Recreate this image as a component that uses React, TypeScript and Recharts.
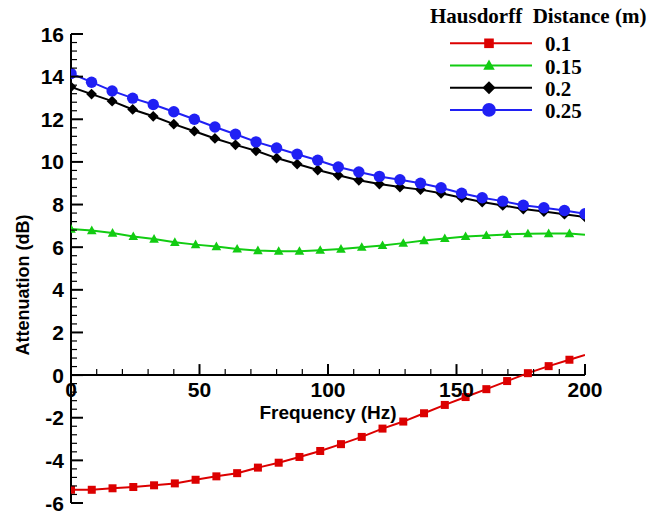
import React from 'react';
import { LineChart, Line, XAxis, YAxis, ReferenceLine, Legend } from 'recharts';

// ---------- data ----------
const freqGridA = [0, 8, 16, 24, 32, 40, 48, 56, 64, 72, 80, 88, 96, 104, 112, 120, 128, 136, 144, 152, 160, 168, 176, 184, 192, 200];
const freqGridB = [0, 8.08, 16.16, 24.24, 32.32, 40.4, 48.48, 56.57, 64.65, 72.73, 80.81, 88.89, 96.97, 105.05, 113.13, 121.21, 129.29, 137.37, 145.45, 153.54, 161.62, 169.7, 177.78, 185.86, 193.94, 200];

const att010 = [-5.38, -5.38, -5.31, -5.25, -5.17, -5.08, -4.91, -4.75, -4.6, -4.34, -4.11, -3.84, -3.56, -3.24, -2.9, -2.51, -2.18, -1.79, -1.4, -1.03, -0.66, -0.28, 0.09, 0.42, 0.72, 0.94];
const att015 = [6.85, 6.78, 6.66, 6.5, 6.38, 6.23, 6.12, 6.03, 5.92, 5.84, 5.81, 5.81, 5.86, 5.91, 6.0, 6.08, 6.19, 6.31, 6.41, 6.5, 6.55, 6.6, 6.63, 6.64, 6.64, 6.58];
const att020 = [13.52, 13.18, 12.85, 12.46, 12.14, 11.77, 11.44, 11.1, 10.8, 10.52, 10.18, 9.9, 9.62, 9.37, 9.14, 8.96, 8.82, 8.7, 8.53, 8.32, 8.12, 7.96, 7.79, 7.67, 7.55, 7.42];
const att025 = [14.15, 13.74, 13.33, 12.99, 12.69, 12.35, 12.0, 11.64, 11.3, 10.94, 10.65, 10.36, 10.08, 9.76, 9.53, 9.32, 9.16, 9.0, 8.79, 8.53, 8.32, 8.16, 7.97, 7.85, 7.72, 7.57];

const seriesNames = ['0.1', '0.15', '0.2', '0.25'];
const legendTitle = 'Hausdorff\u00a0 Distance (m)';
const xTitle = 'Frequency (Hz)';
const yTitle = 'Attenuation (dB)';

const majorXTicks = [0, 50, 100, 150, 200];
const majorYTicks = [-6, -4, -2, 0, 2, 4, 6, 8, 10, 12, 14, 16];

// ---------- layout / style ----------
const W = 660;
const H = 514;
const PLOT_LEFT = 71;
const PLOT_TOP = 34;
const PLOT_RIGHT = 585;
const PLOT_BOTTOM = 503;
const Y_AXIS_W = 60;
const X_AXIS_H = 10;
const M = {
  top: PLOT_TOP,
  right: W - PLOT_RIGHT,
  bottom: H - PLOT_BOTTOM - X_AXIS_H,
  left: PLOT_LEFT - Y_AXIS_W,
};
const Y_MIN = -6;
const Y_MAX = 16;
const PLOT_H = PLOT_BOTTOM - PLOT_TOP;
const Y0 = PLOT_TOP + (Y_MAX / (Y_MAX - Y_MIN)) * PLOT_H;

const SANS = "'Liberation Sans', Arial, Helvetica, sans-serif";
const SERIF = "'Liberation Serif', 'Times New Roman', serif";

const COLORS = ['#dc0000', '#12cc12', '#000000', '#2020f4'];
const SHAPES = ['square', 'triangle', 'diamond', 'circle'];

const minorX: number[] = [];
for (let i = 0; i < majorXTicks.length - 1; i++) {
  const a = majorXTicks[i];
  const b = majorXTicks[i + 1];
  for (let k = 0; k < 5; k++) minorX.push(a + ((b - a) * k) / 5);
}
minorX.push(majorXTicks[majorXTicks.length - 1]);

const yTicksAll: number[] = [];
for (let i = 0; i < majorYTicks.length - 1; i++) {
  const a = majorYTicks[i];
  const b = majorYTicks[i + 1];
  for (let k = 0; k < 5; k++) yTicksAll.push(Math.round((a + ((b - a) * k) / 5) * 100) / 100);
}
yTicksAll.push(majorYTicks[majorYTicks.length - 1]);

const mk = (fs: number[], vs: number[]) => fs.map((f, i) => ({ f, v: vs[i] }));
const seriesData = [mk(freqGridB, att010), mk(freqGridB, att015), mk(freqGridA, att020), mk(freqGridA, att025)];
const hideLastMarker = [true, true, false, false];

function Marker({ kind, cx, cy, color, s = 1 }: { kind: string; cx: number; cy: number; color: string; s?: number }) {
  if (kind === 'square') {
    const h = 4 * s;
    return <rect x={cx - h} y={cy - h} width={2 * h} height={2 * h} fill={color} />;
  }
  if (kind === 'triangle') {
    const pts = `${cx},${cy - 5 * s} ${cx - 4.8 * s},${cy + 3.6 * s} ${cx + 4.8 * s},${cy + 3.6 * s}`;
    return <polygon points={pts} fill={color} />;
  }
  if (kind === 'diamond') {
    const h = 5.4 * s;
    const pts = `${cx},${cy - h} ${cx + h},${cy} ${cx},${cy + h} ${cx - h},${cy}`;
    return <polygon points={pts} fill={color} />;
  }
  return <circle cx={cx} cy={cy} r={5.7 * s} fill={color} />;
}

const makeDot = (si: number) => (p: any) => {
  const key = `dot-${si}-${p.index}`;
  if (p.cx == null || p.cy == null) return <g key={key} />;
  if (hideLastMarker[si] && p.index === seriesData[si].length - 1) return <g key={key} />;
  return (
    <g key={key}>
      <Marker kind={SHAPES[si]} cx={p.cx} cy={p.cy} color={COLORS[si]} />
    </g>
  );
};

const YTick = (props: any) => {
  const { y, payload } = props;
  const x = PLOT_LEFT;
  const v = payload.value;
  const major = majorYTicks.includes(v);
  return (
    <g>
      <line x1={x} y1={y} x2={x + (major ? 12 : 6)} y2={y} stroke="#000" strokeWidth={major ? 2 : 1.2} />
      {major && (
        <text x={x - 7} y={y} dy="0.36em" textAnchor="end" fontFamily={SANS} fontWeight="bold" fontSize={21} fill="#000">
          {String(v)}
        </text>
      )}
    </g>
  );
};

const XTick = (props: any) => {
  const { x, payload } = props;
  const v = payload.value;
  const major = majorXTicks.includes(v);
  return (
    <g>
      <line x1={x} y1={Y0} x2={x} y2={Y0 - (major ? 11 : 6)} stroke="#000" strokeWidth={major ? 2 : 1.2} />
      {major && (
        <text x={x} y={Y0 + 22} textAnchor="middle" fontFamily={SANS} fontWeight="bold" fontSize={21} fill="#000">
          {String(v)}
        </text>
      )}
    </g>
  );
};

const XLabel = () => (
  <text x={(PLOT_LEFT + PLOT_RIGHT) / 2} y={Y0 + 44} textAnchor="middle" fontFamily={SANS} fontWeight="bold" fontSize={19} fill="#000">
    {xTitle}
  </text>
);

const YLabel = () => {
  const cx = PLOT_LEFT - 48;
  const cy = Y0 - 90;
  return (
    <text
      x={cx}
      y={cy}
      transform={`rotate(-90, ${cx}, ${cy})`}
      textAnchor="middle"
      dominantBaseline="central"
      fontFamily={SANS}
      fontWeight="bold"
      fontSize={18}
      fill="#000"
    >
      {yTitle}
    </text>
  );
};

const LegendBox = () => (
  <svg width={240} height={125} style={{ display: 'block' }}>
    <text x={10} y={23} fontFamily={SERIF} fontWeight="bold" fontSize={21} fill="#000">
      {legendTitle}
    </text>
    {seriesNames.map((n, i) => {
      const cy = 43.3 + i * 22.2;
      return (
        <g key={n}>
          <line x1={30} y1={cy} x2={112} y2={cy} stroke={COLORS[i]} strokeWidth={2} />
          <Marker kind={SHAPES[i]} cx={69} cy={cy} color={COLORS[i]} s={1.2} />
          <text x={125} y={cy + 8} fontFamily={SERIF} fontWeight="bold" fontSize={21} fill="#000">
            {n}
          </text>
        </g>
      );
    })}
  </svg>
);

export default function App() {
  return (
    <div style={{ position: 'absolute', left: 0, top: 0, width: W, height: H, background: '#fff' }}>
      <LineChart width={W} height={H} margin={M}>
        <XAxis
          type="number"
          dataKey="f"
          domain={[0, 200]}
          ticks={minorX}
          interval={0}
          allowDataOverflow
          axisLine={false}
          tickLine={false}
          tickSize={0}
          tickMargin={0}
          height={X_AXIS_H}
          tick={<XTick />}
          label={<XLabel />}
        />
        <YAxis
          type="number"
          domain={[Y_MIN, Y_MAX]}
          ticks={yTicksAll}
          interval={0}
          allowDataOverflow
          axisLine={{ stroke: '#000', strokeWidth: 2 }}
          tickLine={false}
          tickSize={0}
          tickMargin={0}
          width={Y_AXIS_W}
          tick={<YTick />}
          label={<YLabel />}
        />
        <ReferenceLine y={0} stroke="#000" strokeWidth={2} />
        <Legend
          layout="horizontal"
          verticalAlign="middle"
          align="center"
          content={<LegendBox />}
          wrapperStyle={{ left: 420, top: 0, width: 240, height: 125 }}
        />
        {seriesData.map((d, si) => (
          <Line
            key={seriesNames[si]}
            data={d}
            dataKey="v"
            name={seriesNames[si]}
            type="linear"
            stroke={COLORS[si]}
            strokeWidth={2}
            dot={makeDot(si)}
            activeDot={false}
            isAnimationActive={false}
          />
        ))}
      </LineChart>
    </div>
  );
}
